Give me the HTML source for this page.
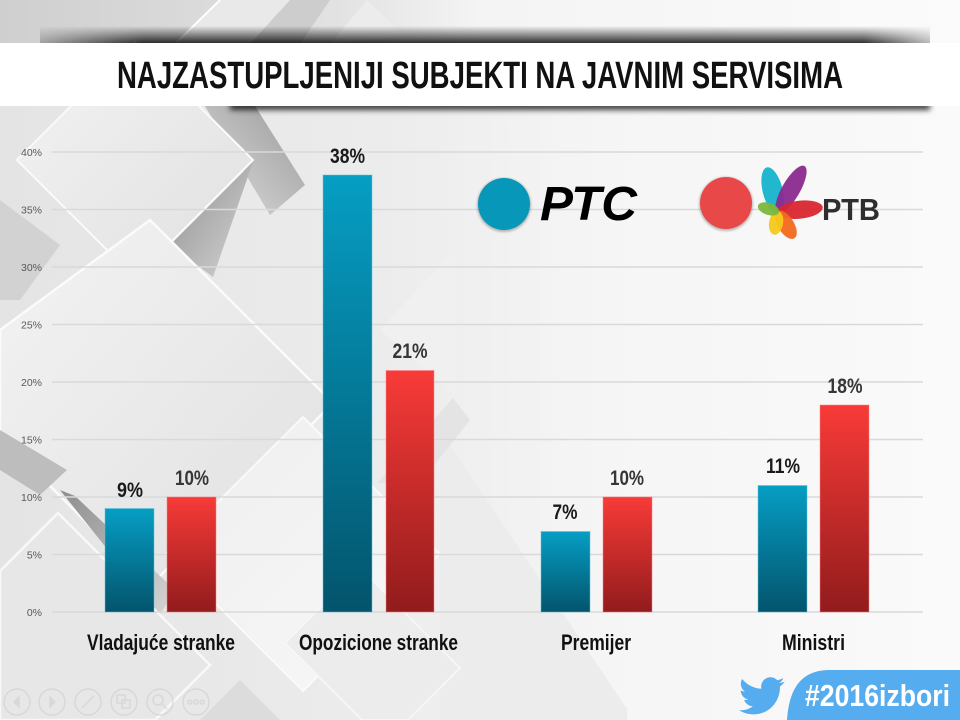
<!DOCTYPE html>
<html><head><meta charset="utf-8"><style>
html,body{margin:0;padding:0;width:960px;height:720px;overflow:hidden;background:#f4f4f4}
svg{display:block;overflow:hidden}
</style></head><body>
<svg width="960" height="720" viewBox="0 0 960 720" xmlns="http://www.w3.org/2000/svg">
<defs>
 <linearGradient id="bg" x1="0" y1="0" x2="1" y2="0">
  <stop offset="0" stop-color="#e4e4e4"/><stop offset="0.4" stop-color="#ececec"/><stop offset="0.62" stop-color="#f5f5f5"/><stop offset="1" stop-color="#fafafa"/>
 </linearGradient>
 <linearGradient id="blue" x1="0" y1="0" x2="0" y2="1"><stop offset="0" stop-color="#069ec4"/><stop offset="1" stop-color="#03546c"/></linearGradient>
 <linearGradient id="red" x1="0" y1="0" x2="0" y2="1"><stop offset="0" stop-color="#f83b38"/><stop offset="1" stop-color="#921b1c"/></linearGradient>
 <linearGradient id="sh1" x1="0" y1="0" x2="1" y2="1"><stop offset="0" stop-color="#8e8e8e"/><stop offset="1" stop-color="#d6d6d6"/></linearGradient>
 <linearGradient id="sh2" x1="1" y1="0" x2="0" y2="1"><stop offset="0" stop-color="#9a9a9a"/><stop offset="1" stop-color="#dedede"/></linearGradient>
 <linearGradient id="pl" x1="0" y1="0" x2="1" y2="1"><stop offset="0" stop-color="#f3f3f3"/><stop offset="1" stop-color="#e0e0e0"/></linearGradient>
 <linearGradient id="pl2" x1="0" y1="0" x2="1" y2="1"><stop offset="0" stop-color="#eeeeee"/><stop offset="1" stop-color="#f8f8f8"/></linearGradient>
 <linearGradient id="topg" x1="0" y1="0" x2="1" y2="0"><stop offset="0" stop-color="#cfcfcf"/><stop offset="0.35" stop-color="#e2e2e2"/><stop offset="0.5" stop-color="#f4f4f4"/><stop offset="1" stop-color="#fbfbfb"/></linearGradient>
 <linearGradient id="shT" x1="0" y1="0" x2="0" y2="1"><stop offset="0" stop-color="#000" stop-opacity="0"/><stop offset="1" stop-color="#000" stop-opacity="0.85"/></linearGradient>
 <linearGradient id="fadeH" x1="0" y1="0" x2="1" y2="0"><stop offset="0" stop-color="#fff" stop-opacity="0"/><stop offset="0.15" stop-color="#fff" stop-opacity="1"/><stop offset="0.9" stop-color="#fff" stop-opacity="1"/><stop offset="1" stop-color="#fff" stop-opacity="0"/></linearGradient>
 <mask id="mH"><rect x="0" y="0" width="960" height="720" fill="url(#fadeH)"/></mask>
 <filter id="blur3" x="-10%" y="-200%" width="120%" height="500%"><feGaussianBlur stdDeviation="3"/></filter>
 <filter id="blur1"><feGaussianBlur stdDeviation="1"/></filter>
</defs>

<!-- background -->
<rect x="0" y="0" width="960" height="720" fill="url(#bg)"/>
<rect x="0" y="0" width="960" height="44" fill="url(#topg)"/>
<polygon points="220,0 290,0 250,44 175,44" fill="#e9e9e9"/>
<polygon points="290,0 330,0 300,44 250,44" fill="#cdcdcd"/>
<polygon points="367,0 404,36 330,44" fill="#ececec"/>
<line x1="220" y1="0" x2="175" y2="44" stroke="#fff" stroke-width="2"/>

<!-- right lower grey wedge -->
<polygon points="440,430 627,709 627,720 440,720" fill="#ececec"/>

<!-- dark stripe upper -->
<polygon points="205,106 255,106 305,185 270,215" fill="url(#sh2)"/>
<!-- P1 diamond -->
<polygon points="17,160 135,42 253,160 135,278" fill="url(#pl)" stroke="#fafafa" stroke-width="2"/>
<!-- wedge shadow -->
<polygon points="253,162 213,277 170,245" fill="url(#sh1)"/>
<polygon points="0,200 60,245 20,300 0,300" fill="#d2d2d2"/>
<!-- right upper shapes near opposition -->
<polygon points="455,250 380,330 455,395" fill="#f0f0f0"/>
<!-- D1 big diamond -->
<polygon points="0,330 150,220 333,403 150,586 0,436" fill="url(#pl)" stroke="#fbfbfb" stroke-width="2.5"/>
<!-- lower-left dark stripes -->
<polygon points="0,430 67,470 40,495 0,470" fill="#bdbdbd"/>
<polygon points="60,490 75,496 175,590 160,615" fill="url(#sh1)"/>
<!-- D3 middle diamond -->
<polygon points="303,417 440,554 303,691 166,554" fill="url(#pl2)" stroke="#fafafa" stroke-width="2"/>
<polygon points="377,483 453,398 470,420 420,483" fill="#e4e4e4"/>
<!-- D2 lower-left diamond -->
<polygon points="58,513 210,665 155,720 0,720 0,571" fill="#e7e7e7" stroke="#f8f8f8" stroke-width="2.5"/>
<!-- bottom middle diamond -->
<polygon points="285,643 360,568 460,668 408,720 362,720" fill="#ececec" stroke="#f6f6f6" stroke-width="2"/>
<polygon points="200,720 240,680 280,720" fill="#dcdcdc"/>

<!-- title band -->
<g mask="url(#mH)">
 <rect x="40" y="26" width="890" height="18" fill="url(#shT)"/>
</g>
<rect x="230" y="102" width="700" height="8" fill="#000" opacity="0.75" filter="url(#blur3)"/>
<rect x="0" y="43" width="960" height="63" fill="#ffffff"/>
<text x="480" y="88" text-anchor="middle" font-family="'Liberation Sans Narrow','Liberation Sans',sans-serif" font-weight="bold" font-size="38" fill="#111" textLength="726" lengthAdjust="spacingAndGlyphs">NAJZASTUPLJENIJI SUBJEKTI NA JAVNIM SERVISIMA</text>

<!-- gridlines -->
<g stroke="#d9d9d9" stroke-width="1.5">
 <line x1="52" y1="152" x2="923" y2="152"/>
 <line x1="52" y1="209.5" x2="923" y2="209.5"/>
 <line x1="52" y1="267" x2="923" y2="267"/>
 <line x1="52" y1="324.5" x2="923" y2="324.5"/>
 <line x1="52" y1="382" x2="923" y2="382"/>
 <line x1="52" y1="439.5" x2="923" y2="439.5"/>
 <line x1="52" y1="497" x2="923" y2="497"/>
 <line x1="52" y1="554.5" x2="923" y2="554.5"/>
 <line x1="52" y1="612" x2="923" y2="612"/>
</g>
<g font-family="'Liberation Sans',sans-serif" font-size="10.5" fill="#595959" text-anchor="end">
 <text x="42" y="156">40%</text>
 <text x="42" y="213.5">35%</text>
 <text x="42" y="271">30%</text>
 <text x="42" y="328.5">25%</text>
 <text x="42" y="386">20%</text>
 <text x="42" y="443.5">15%</text>
 <text x="42" y="501">10%</text>
 <text x="42" y="558.5">5%</text>
 <text x="42" y="616">0%</text>
</g>

<!-- bars -->
<g stroke-width="1">
 <rect x="105" y="508.5" width="49" height="103.5" fill="url(#blue)" stroke="#5cc3dc" stroke-opacity="0.5"/>
 <rect x="167" y="497" width="49" height="115" fill="url(#red)" stroke="#ff8080" stroke-opacity="0.5"/>
 <rect x="323" y="175" width="49" height="437" fill="url(#blue)" stroke="#5cc3dc" stroke-opacity="0.5"/>
 <rect x="386" y="370.5" width="48" height="241.5" fill="url(#red)" stroke="#ff8080" stroke-opacity="0.5"/>
 <rect x="541" y="531.5" width="49" height="80.5" fill="url(#blue)" stroke="#5cc3dc" stroke-opacity="0.5"/>
 <rect x="603" y="497" width="49" height="115" fill="url(#red)" stroke="#ff8080" stroke-opacity="0.5"/>
 <rect x="758" y="485.5" width="49" height="126.5" fill="url(#blue)" stroke="#5cc3dc" stroke-opacity="0.5"/>
 <rect x="820" y="405" width="49" height="207" fill="url(#red)" stroke="#ff8080" stroke-opacity="0.5"/>
</g>

<!-- value labels -->
<g font-family="'Liberation Sans Narrow','Liberation Sans',sans-serif" font-weight="bold" font-size="21" text-anchor="middle">
 <text x="130" y="497" fill="#1a1a1a" textLength="26" lengthAdjust="spacingAndGlyphs">9%</text>
 <text x="192" y="485" fill="#363636" textLength="34" lengthAdjust="spacingAndGlyphs">10%</text>
 <text x="347.5" y="163" fill="#1a1a1a" textLength="35" lengthAdjust="spacingAndGlyphs">38%</text>
 <text x="410" y="358" fill="#363636" textLength="35" lengthAdjust="spacingAndGlyphs">21%</text>
 <text x="565" y="519" fill="#1a1a1a" textLength="25" lengthAdjust="spacingAndGlyphs">7%</text>
 <text x="627" y="485" fill="#363636" textLength="34" lengthAdjust="spacingAndGlyphs">10%</text>
 <text x="783" y="473" fill="#1a1a1a" textLength="34" lengthAdjust="spacingAndGlyphs">11%</text>
 <text x="845" y="393" fill="#363636" textLength="35" lengthAdjust="spacingAndGlyphs">18%</text>
</g>

<!-- category labels -->
<g font-family="'Liberation Sans Narrow','Liberation Sans',sans-serif" font-weight="bold" font-size="22" fill="#111" text-anchor="middle">
 <text x="161" y="650" textLength="148" lengthAdjust="spacingAndGlyphs">Vladajuće stranke</text>
 <text x="378.5" y="650" textLength="159" lengthAdjust="spacingAndGlyphs">Opozicione stranke</text>
 <text x="596" y="650" textLength="70" lengthAdjust="spacingAndGlyphs">Premijer</text>
 <text x="813.5" y="650" textLength="63" lengthAdjust="spacingAndGlyphs">Ministri</text>
</g>

<!-- legend logos -->
<circle cx="504" cy="205" r="27" fill="#000" opacity="0.25" filter="url(#blur1)"/>
<circle cx="504" cy="204" r="26" fill="#0797b9"/>
<text x="540" y="220" font-family="'Liberation Sans',sans-serif" font-weight="bold" font-style="italic" font-size="48" fill="#000" textLength="97" lengthAdjust="spacingAndGlyphs">РТС</text>

<circle cx="726" cy="204" r="27" fill="#000" opacity="0.25" filter="url(#blur1)"/>
<circle cx="726" cy="203" r="26" fill="#e84847"/>
<g transform="translate(778,212)">
 <ellipse cx="0" cy="-22" rx="10" ry="24" transform="rotate(-14)" fill="#15b3cc" opacity="0.95"/>
 <ellipse cx="0" cy="-26" rx="9" ry="27" transform="rotate(30)" fill="#8b2a8e" opacity="0.95"/>
 <ellipse cx="0" cy="-22" rx="9" ry="23" transform="rotate(84)" fill="#d8262f" opacity="0.95"/>
 <ellipse cx="0" cy="-15" rx="8" ry="16" transform="rotate(148)" fill="#f26a1c" opacity="0.95"/>
 <ellipse cx="0" cy="-11" rx="7" ry="12" transform="rotate(190)" fill="#f6c81a" opacity="0.95"/>
 <ellipse cx="0" cy="-10" rx="6" ry="11" transform="rotate(-72)" fill="#7ab83a" opacity="0.95"/>
</g>
<text x="822" y="220" font-family="'Liberation Sans',sans-serif" font-weight="bold" font-size="31" fill="#2e2e2e" textLength="58" lengthAdjust="spacingAndGlyphs">РТВ</text>

<!-- nav icons -->
<g fill="none" stroke="#d2d2d2" stroke-width="1.5" opacity="0.7">
 <circle cx="17" cy="702" r="13"/>
 <circle cx="52" cy="702" r="13"/>
 <circle cx="88" cy="702" r="13"/>
 <circle cx="124" cy="702" r="13"/>
 <circle cx="160" cy="702" r="13"/>
 <circle cx="196" cy="702" r="13"/>
 <path d="M19 697 L14 702 L19 707 Z" fill="#d2d2d2"/>
 <path d="M50 697 L55 702 L50 707 Z" fill="#d2d2d2"/>
 <line x1="82" y1="708" x2="94" y2="696"/>
 <rect x="117" y="695" width="8" height="8"/><rect x="122" y="700" width="8" height="8"/>
 <circle cx="158" cy="700" r="5"/><line x1="162" y1="704" x2="167" y2="709"/>
 <circle cx="190" cy="702" r="2"/><circle cx="196" cy="702" r="2"/><circle cx="202" cy="702" r="2"/>
</g>

<!-- hashtag badge -->
<path d="M787 720 C789 690 800 670 830 670 L960 670 L960 720 Z" fill="#55acee"/>
<text x="805" y="706" font-family="'Liberation Sans Narrow','Liberation Sans',sans-serif" font-weight="bold" font-size="31" fill="#ffffff" textLength="145" lengthAdjust="spacingAndGlyphs">#2016izbori</text>
<path transform="translate(739,673) scale(1.9)" fill="#55acee" d="M23.954 4.569c-.885.389-1.83.654-2.825.775 1.014-.611 1.794-1.574 2.163-2.723-.951.555-2.005.959-3.127 1.184-.896-.959-2.173-1.559-3.591-1.559-2.717 0-4.920 2.203-4.920 4.917 0 .39.045.765.127 1.124C7.691 8.094 4.066 6.13 1.64 3.161c-.427.722-.666 1.561-.666 2.475 0 1.71.87 3.213 2.188 4.096-.807-.026-1.566-.248-2.228-.616v.061c0 2.385 1.693 4.374 3.946 4.827-.413.111-.849.171-1.296.171-.314 0-.615-.03-.916-.086.631 1.953 2.445 3.377 4.604 3.417-1.68 1.319-3.809 2.105-6.102 2.105-.39 0-.779-.023-1.17-.067 2.189 1.394 4.768 2.209 7.557 2.209 9.054 0 13.999-7.496 13.999-13.986 0-.209 0-.42-.015-.63.961-.689 1.8-1.614 2.46-2.548l-.047-.02z"/>
</svg>
</body></html>
